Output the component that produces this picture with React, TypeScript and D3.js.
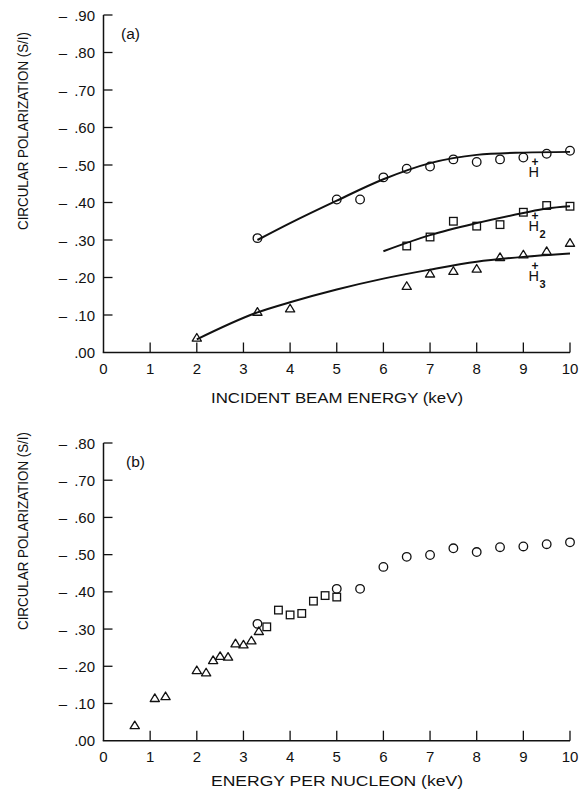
import React, { useEffect, useRef } from "react";
import * as d3 from "d3";

// (a) polarization vs incident beam energy (keV)
const hPlusE = [3.3, 5, 5.5, 6, 6.5, 7, 7.5, 8, 8.5, 9, 9.5, 10];
const hPlusP = [0.305, 0.408, 0.408, 0.467, 0.49, 0.496, 0.515, 0.508, 0.515, 0.52, 0.53, 0.538];
const h2E = [6.5, 7, 7.5, 8, 8.5, 9, 9.5, 10];
const h2P = [0.284, 0.308, 0.35, 0.337, 0.341, 0.374, 0.392, 0.39];
const h3E = [2, 3.3, 4, 6.5, 7, 7.5, 8, 8.5, 9, 9.5, 10];
const h3P = [0.04, 0.109, 0.118, 0.178, 0.211, 0.218, 0.224, 0.255, 0.262, 0.271, 0.293];

// smooth curves drawn through (a)
const hPlusFitE = [3.3, 4, 5, 6, 7, 8, 9, 10];
const hPlusFitP = [0.3, 0.345, 0.405, 0.462, 0.505, 0.527, 0.533, 0.535];
const h2FitE = [6, 7, 8, 9, 9.5, 10];
const h2FitP = [0.27, 0.313, 0.345, 0.372, 0.384, 0.39];
const h3FitE = [2, 3.3, 4, 5, 6, 7, 8, 9, 10];
const h3FitP = [0.035, 0.107, 0.134, 0.168, 0.197, 0.221, 0.242, 0.255, 0.264];

// (b) same data vs energy per nucleon (keV)
const bCircE = [3.3, 5, 5.5, 6, 6.5, 7, 7.5, 8, 8.5, 9, 9.5, 10];
const bCircP = [0.314, 0.408, 0.408, 0.467, 0.494, 0.499, 0.517, 0.507, 0.52, 0.522, 0.528, 0.533];
const bSqE = [3.5, 3.75, 4, 4.25, 4.5, 4.75, 5];
const bSqP = [0.306, 0.351, 0.338, 0.342, 0.375, 0.39, 0.386];
const bTriE = [0.67, 1.1, 1.33, 2, 2.2, 2.35, 2.5, 2.67, 2.83, 3, 3.17, 3.33];
const bTriP = [0.042, 0.115, 0.12, 0.19, 0.184, 0.217, 0.228, 0.226, 0.262, 0.259, 0.27, 0.295];

const xTicks = [0, 1, 2, 3, 4, 5, 6, 7, 8, 9, 10];
const yTicksA = [0, 0.1, 0.2, 0.3, 0.4, 0.5, 0.6, 0.7, 0.8, 0.9];
const yTicksB = [0, 0.1, 0.2, 0.3, 0.4, 0.5, 0.6, 0.7, 0.8];

const W = 583;
const H = 789;
const FONT = "'Liberation Sans', Arial, sans-serif";

function zip(a: number[], b: number[]) {
  return a.map((v, i) => [v, b[i]] as [number, number]);
}

export default function App() {
  const ref = useRef<SVGSVGElement>(null);

  useEffect(() => {
    const svg = d3.select(ref.current);
    svg.selectAll("*").remove();

    const x = d3.scaleLinear().domain([0, 10]).range([103.5, 570]);

    const drawPanel = (
      y: d3.ScaleLinear<number, number>,
      yTicks: number[],
      label: string,
      labelX: number,
      xTitle: string,
      xTitleY: number,
      yTitleMid: number
    ) => {
      const g = svg.append("g");
      const y0 = y(0);
      const yTop = y(yTicks[yTicks.length - 1]);

      // axes
      g.append("line")
        .attr("x1", x(0)).attr("x2", x(0))
        .attr("y1", yTop).attr("y2", y0)
        .attr("stroke", "#111").attr("stroke-width", 1.5);
      g.append("line")
        .attr("x1", x(0) - 0.75).attr("x2", x(10))
        .attr("y1", y0).attr("y2", y0)
        .attr("stroke", "#111").attr("stroke-width", 1.5);

      g.selectAll(".yt")
        .data(yTicks.filter((d) => d > 0))
        .join("line")
        .attr("x1", x(0)).attr("x2", x(0) + 9)
        .attr("y1", (d) => y(d)).attr("y2", (d) => y(d))
        .attr("stroke", "#111").attr("stroke-width", 1.3);

      g.selectAll(".xt")
        .data(xTicks.filter((d) => d > 0))
        .join("line")
        .attr("x1", (d) => x(d)).attr("x2", (d) => x(d))
        .attr("y1", y0).attr("y2", y0 - 10)
        .attr("stroke", "#111").attr("stroke-width", 1.3);

      g.selectAll(".yl")
        .data(yTicks)
        .join("text")
        .attr("x", 95)
        .attr("y", (d) => y(d) + 5.5)
        .attr("text-anchor", "end")
        .attr("font-family", FONT)
        .attr("font-size", 15)
        .attr("fill", "#111")
        .text((d) => (d === 0 ? ".00" : "\u2013\u2009 " + d3.format(".2f")(d).replace("0.", ".")));

      g.selectAll(".xl")
        .data(xTicks)
        .join("text")
        .attr("x", (d) => x(d))
        .attr("y", y0 + 21)
        .attr("text-anchor", "middle")
        .attr("font-family", FONT)
        .attr("font-size", 15)
        .attr("fill", "#111")
        .text((d) => String(d));

      g.append("text")
        .attr("x", labelX)
        .attr("y", yTop + 24)
        .attr("font-family", FONT)
        .attr("font-size", 15.5)
        .attr("fill", "#111")
        .text(label);

      g.append("text")
        .attr("x", 337)
        .attr("y", xTitleY)
        .attr("text-anchor", "middle")
        .attr("font-family", FONT)
        .attr("font-size", 15)
        .attr("textLength", 252)
        .attr("lengthAdjust", "spacingAndGlyphs")
        .attr("fill", "#111")
        .text(xTitle);

      g.append("text")
        .attr("transform", `translate(27.5,${yTitleMid}) rotate(-90)`)
        .attr("text-anchor", "middle")
        .attr("font-family", FONT)
        .attr("font-size", 14.5)
        .attr("textLength", 198)
        .attr("lengthAdjust", "spacingAndGlyphs")
        .attr("fill", "#111")
        .text("CIRCULAR POLARIZATION (S/I)");

      return g;
    };

    const circles = (g: any, y: any, pts: [number, number][]) =>
      g.append("g").selectAll("circle").data(pts).join("circle")
        .attr("cx", (d: any) => x(d[0])).attr("cy", (d: any) => y(d[1]))
        .attr("r", 4.3).attr("fill", "none")
        .attr("stroke", "#111").attr("stroke-width", 1.3);

    const squares = (g: any, y: any, pts: [number, number][]) =>
      g.append("g").selectAll("rect").data(pts).join("rect")
        .attr("x", (d: any) => x(d[0]) - 3.8).attr("y", (d: any) => y(d[1]) - 3.8)
        .attr("width", 7.6).attr("height", 7.6).attr("fill", "none")
        .attr("stroke", "#111").attr("stroke-width", 1.3);

    const triangles = (g: any, y: any, pts: [number, number][]) =>
      g.append("g").selectAll("path").data(pts).join("path")
        .attr("d", (d: any) => {
          const cx = x(d[0]);
          const cy = y(d[1]);
          return `M${cx},${cy - 4}L${cx + 4.6},${cy + 3.6}L${cx - 4.6},${cy + 3.6}Z`;
        })
        .attr("fill", "none").attr("stroke", "#111").attr("stroke-width", 1.3)
        .attr("stroke-linejoin", "round");

    // panel (a)
    const yA = d3.scaleLinear().domain([0, 0.9]).range([352.5, 15]);
    const gA = drawPanel(yA, yTicksA, "(a)", 121, "INCIDENT BEAM ENERGY (keV)", 403, 131);

    const fit = d3
      .line<[number, number]>()
      .x((d) => x(d[0]))
      .y((d) => yA(d[1]))
      .curve(d3.curveMonotoneX);

    [zip(hPlusFitE, hPlusFitP), zip(h2FitE, h2FitP), zip(h3FitE, h3FitP)].forEach((pts) => {
      gA.append("path")
        .attr("d", fit(pts))
        .attr("fill", "none")
        .attr("stroke", "#111")
        .attr("stroke-width", 2);
    });

    circles(gA, yA, zip(hPlusE, hPlusP));
    squares(gA, yA, zip(h2E, h2P));
    triangles(gA, yA, zip(h3E, h3P));

    // ion labels: H with stacked + and subscript, one text each
    const ions = [
      { sub: "", yv: 0.467 },
      { sub: "2", yv: 0.325 },
      { sub: "3", yv: 0.19 },
    ];
    ions.forEach((ion) => {
      const by = yA(ion.yv);
      const t = gA.append("text")
        .attr("x", 528.5)
        .attr("y", by)
        .attr("font-family", FONT)
        .attr("fill", "#111");
      t.append("tspan").attr("font-size", 14.5).text("H");
      t.append("tspan")
        .attr("x", 531.5)
        .attr("dy", -11)
        .attr("font-size", 12)
        .attr("font-weight", "bold")
        .text("+");
      if (ion.sub) {
        t.append("tspan")
          .attr("x", 539.5)
          .attr("dy", 18)
          .attr("font-size", 11)
          .attr("font-weight", "bold")
          .text(ion.sub);
      }
    });

    // panel (b)
    const yB = d3.scaleLinear().domain([0, 0.8]).range([740.7, 443]);
    const gB = drawPanel(yB, yTicksB, "(b)", 126, "ENERGY PER NUCLEON (keV)", 786, 531);
    circles(gB, yB, zip(bCircE, bCircP));
    squares(gB, yB, zip(bSqE, bSqP));
    triangles(gB, yB, zip(bTriE, bTriP));
  }, []);

  return (
    <svg
      ref={ref}
      width={W}
      height={H}
      style={{ position: "absolute", left: 0, top: 0, background: "#fff" }}
    />
  );
}
